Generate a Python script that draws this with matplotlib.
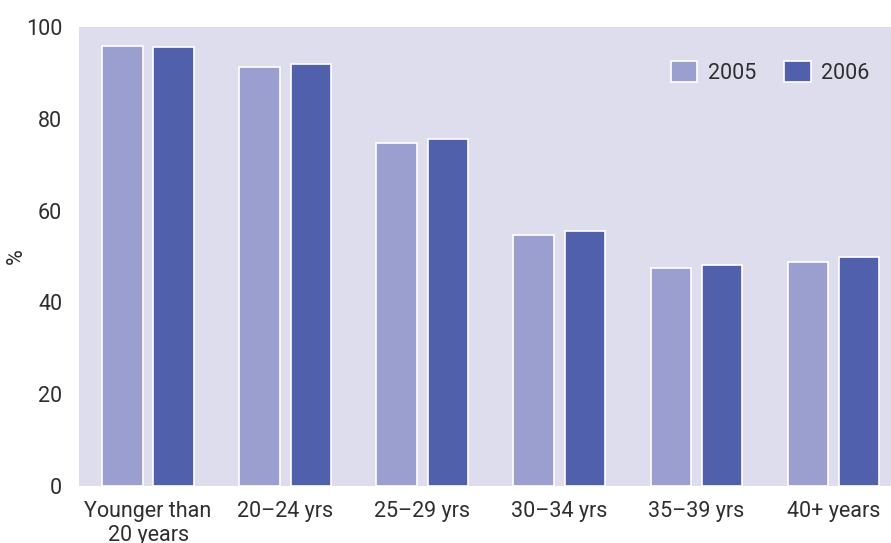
import matplotlib
matplotlib.use("Agg")
import matplotlib.pyplot as plt
import numpy as np

categories = ["Younger than\n20 years", "20–24 yrs", "25–29 yrs", "30–34 yrs", "35–39 yrs", "40+ years"]
values_2005 = [95.9, 91.3, 74.7, 54.7, 47.5, 48.8]
values_2006 = [95.6, 91.9, 75.6, 55.6, 48.1, 49.9]
series_labels = ["2005", "2006"]
yticks = [0, 20, 40, 60, 80, 100]

plt.rcParams['font.family'] = ['Roboto', 'DejaVu Sans']
text_color = "#2e2e2e"
fs = 15.5
fw = "normal"

fig = plt.figure(figsize=(8.91, 5.43), dpi=100)
ax = fig.add_axes([79/891, 57/543, 1 - 79/891, (486-27)/543])
ax.set_facecolor("#dedded")

x = np.arange(len(categories))
w = 0.295
off = 0.187
ax.bar(x - off, values_2005, width=w, color="#9b9fcf", edgecolor="white", linewidth=1.2, label=series_labels[0], zorder=2)
ax.bar(x + off, values_2006, width=w, color="#5060ab", edgecolor="white", linewidth=1.2, label=series_labels[1], zorder=2)

ax.set_xlim(-0.504, 5.42)
ax.set_ylim(0, 100)
ax.set_yticks(yticks)
ax.set_yticklabels([str(t) for t in yticks], fontsize=fs, color=text_color, fontweight=fw)
ax.set_xticks(x)
ax.set_xticklabels(categories, fontsize=fs, color=text_color, linespacing=1.2, fontweight=fw)
ax.tick_params(axis='both', length=0)
ax.tick_params(axis='y', pad=12)
ax.tick_params(axis='x', pad=11)
for s in ax.spines.values():
    s.set_visible(False)
ax.set_ylabel("%", fontsize=fs, color=text_color, fontweight=fw)
ax.yaxis.set_label_coords(-0.064, 0.5)

leg = ax.legend(loc="upper right", ncol=2, frameon=False,
                prop={'size': fs, 'weight': fw},
                handlelength=1.25, handleheight=1.1, columnspacing=1.3,
                handletextpad=0.47, bbox_to_anchor=(0.997, 0.968),
                labelcolor=text_color)
for h in leg.legend_handles:
    h.set_edgecolor("white")

fig.savefig("out.png", dpi=100)
